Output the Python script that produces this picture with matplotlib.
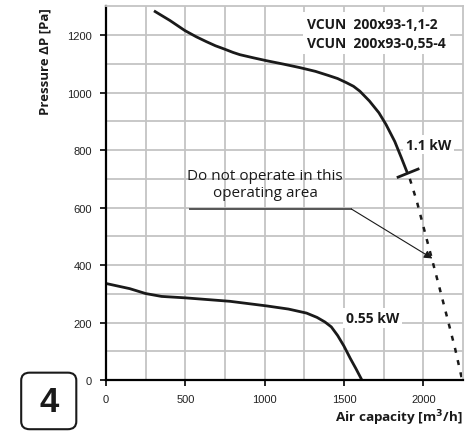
import numpy as np
import matplotlib
matplotlib.use("Agg")
import matplotlib.pyplot as plt
from matplotlib.patches import FancyBboxPatch

# curva 1.1 kW (m3/h, Pa)
hi_x = [310, 403, 497, 570, 634, 690, 749, 800, 844, 930, 1012, 1120, 1222, 1320, 1400, 1460, 1514, 1560, 1600, 1660, 1720, 1765, 1820, 1862, 1897]
hi_y = [1282, 1251, 1216, 1194, 1177, 1163, 1151, 1140, 1132, 1121, 1111, 1099, 1087, 1074, 1060, 1049, 1035, 1022, 1005, 971, 930, 889, 830, 773, 724]

# curva 0.55 kW
lo_x = [0, 150, 250, 350, 500, 781, 1012, 1150, 1264, 1330, 1380, 1420, 1460, 1500, 1540, 1575, 1610]
lo_y = [336, 318, 301, 291, 286, 274, 258, 247, 233, 218, 202, 185, 155, 118, 75, 40, 3]

# zona proibida (tracejado)
dash_x = [1915, 1960, 2000, 2050, 2100, 2150, 2200, 2245]
dash_y = [700, 620, 535, 430, 325, 218, 110, 0]

# traço no fim da curva
stop_x = [1841, 1967]
stop_y = [706, 734]

x_ticks = [0, 500, 1000, 1500, 2000]
y_ticks = [0, 200, 400, 600, 800, 1000, 1200]

tick_font = "Liberation Sans"
bold_font = "Open Sans"
ink = "#1a1a1a"

fig = plt.figure(figsize=(4.71, 4.35), dpi=100)
ax = fig.add_axes([0.225, 0.124, 0.758, 0.859])
ax.set_xlim(0, 2250)
ax.set_ylim(0, 1300)

ax.set_xticks(x_ticks)
ax.set_yticks(y_ticks)
ax.set_xticks(np.arange(250, 2250, 500), minor=True)
ax.set_yticks(np.arange(100, 1300, 200), minor=True)
ax.grid(True, which="both", color="#c4c4c4", lw=1.3)
ax.set_axisbelow(True)
ax.tick_params(which="minor", length=0)
ax.tick_params(which="major", length=4, width=1.2, color="black", labelsize=8, labelcolor="#222222", pad=6)
for lab in ax.get_xticklabels() + ax.get_yticklabels():
    lab.set_family(tick_font)

for s in ["left", "bottom"]:
    ax.spines[s].set_color("black")
    ax.spines[s].set_linewidth(1.6)
for s in ["top", "right"]:
    ax.spines[s].set_color("#c4c4c4")
    ax.spines[s].set_linewidth(1.3)

# curvas
ax.plot(hi_x, hi_y, color=ink, lw=2, solid_joinstyle="round")
ax.plot(lo_x, lo_y, color=ink, lw=2, solid_joinstyle="round")
ax.plot(stop_x, stop_y, color=ink, lw=2)
ax.plot(dash_x, dash_y, color=ink, lw=1.8, linestyle=(0, (2, 3)))

# textos
ax.text(1266, 1206, "VCUN  200x93-1,1-2\nVCUN  200x93-0,55-4", family=bold_font,
        fontweight="bold", fontsize=10, color=ink, ha="left", va="center",
        linespacing=1.5, bbox=dict(facecolor="white", edgecolor="none", pad=3))
ax.text(2035, 819, "1.1 kW", family=bold_font, fontweight="bold", fontsize=10,
        color=ink, ha="center", va="center",
        bbox=dict(facecolor="white", edgecolor="none", pad=2))
ax.text(1680, 216, "0.55 kW", family=bold_font, fontweight="bold", fontsize=10,
        color=ink, ha="center", va="center",
        bbox=dict(facecolor="white", edgecolor="none", pad=2))
ax.text(1002, 682, "Do not operate in this\noperating area", family="Open Sans",
        fontsize=11, color=ink, ha="center", va="center", linespacing=1.1)

# seta
ax.plot([529, 1547], [595, 595], color="#555555", lw=1.4)
ax.annotate("", xy=(2057, 423), xytext=(1547, 595),
            arrowprops=dict(arrowstyle="-|>", lw=0.8, color=ink, mutation_scale=12,
                            shrinkA=0, shrinkB=0))

# eixos
fig.text(0.983, 0.039, "Air capacity [m$^\\mathbf{3}$/h]", family=bold_font, fontweight="bold",
         fontsize=9.7, color=ink, ha="right", va="center")
fig.text(0.096, 0.982, "Pressure ΔP [Pa]", family=bold_font, fontweight="bold",
         fontsize=9.5, color=ink, ha="center", va="top", rotation=90)

# caixa "4"
box = FancyBboxPatch((0.045, 0.011), 0.117, 0.13, boxstyle="round,pad=0,rounding_size=0.018",
                     transform=fig.transFigure, facecolor="white", edgecolor=ink, lw=1.5)
fig.patches.append(box)
fig.text(0.1035, 0.074, "4", family=tick_font, fontweight="bold", fontsize=25,
         color=ink, ha="center", va="center")

fig.savefig("out.png", dpi=100)
